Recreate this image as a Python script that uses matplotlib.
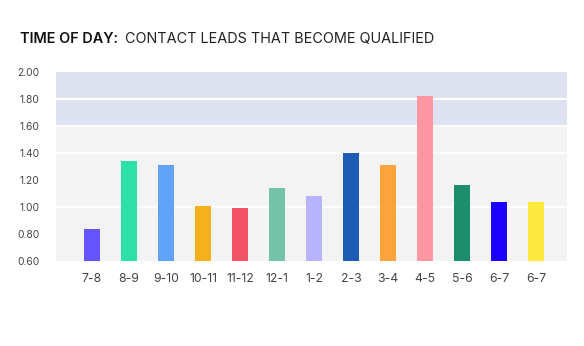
import matplotlib.pyplot as plt
import numpy as np

plt.rcParams['font.family'] = ['Inter', 'DejaVu Sans']

hours = ['7-8', '8-9', '9-10', '10-11', '11-12', '12-1', '1-2',
         '2-3', '3-4', '4-5', '5-6', '6-7', '6-7']
rates = [0.84, 1.34, 1.31, 1.01, 0.99, 1.14, 1.08,
         1.40, 1.31, 1.82, 1.16, 1.04, 1.04]
bar_colors = ['#6655fe', '#2de0a8', '#5fa4fa', '#f4b11c', '#f25367', '#72c3a8', '#b8b3fd',
              '#1c5cb5', '#fda53d', '#ff97a2', '#1c8e6c', '#1c00fe', '#ffe83d']
y_ticks = [0.60, 0.80, 1.00, 1.20, 1.40, 1.60, 1.80, 2.00]
grid_lines = [1.0, 1.4, 1.6, 1.8]

fig = plt.figure(figsize=(5.84, 3.46), dpi=100)
ax = fig.add_axes([56 / 584, 85 / 346, 511 / 584, 189 / 346])
ax.set_facecolor('#f3f3f3')

x = np.arange(len(hours))
ax.axhspan(1.6, 2.0, color='#dee1ef', lw=0, zorder=0)
for g in grid_lines:
    ax.axhline(g, color='white', lw=1.6, zorder=1)

ax.bar(x, rates, bottom=0, width=0.43, color=bar_colors, zorder=2)

ax.set_xlim(-0.973, 12.84)
ax.set_ylim(0.6, 2.0)
ax.set_xticks(x)
ax.set_xticklabels(hours)
ax.set_yticks(y_ticks)
ax.set_yticklabels([f'{v:.2f}' for v in y_ticks])
ax.tick_params(length=0, colors='#444444')
ax.tick_params(axis='x', pad=8.5, labelsize=8.8)
ax.tick_params(axis='y', pad=12, labelsize=7.4)
for s in ax.spines.values():
    s.set_visible(False)

# title in two weights
t1 = fig.text(20 / 584, 303 / 346, 'TIME OF DAY:', fontsize=10.4, fontweight='semibold',
              color='#111111')
fig.canvas.draw()
bb = t1.get_window_extent()
fig.text((bb.x1 + 7) / 584, 303 / 346, 'CONTACT LEADS THAT BECOME QUALIFIED',
         fontsize=10.4, color='#222222')

fig.savefig('out.png', dpi=100)
